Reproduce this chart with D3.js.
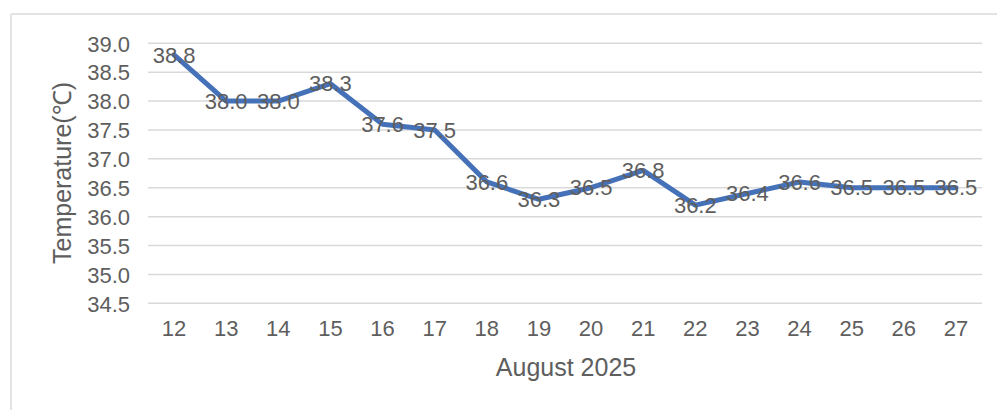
<!DOCTYPE html>
<html><head><meta charset="utf-8">
<script src="https://cdn.jsdelivr.net/npm/d3@7"></script>
<style>html,body{margin:0;padding:0;background:#fff;}svg{display:block;}</style>
</head><body>
<svg id="c" width="997" height="410"></svg>
<script>
const days = ["12","13","14","15","16","17","18","19","20","21","22","23","24","25","26","27"];
const temps = [38.8,38.0,38.0,38.3,37.6,37.5,36.6,36.3,36.5,36.8,36.2,36.4,36.6,36.5,36.5,36.5];
const yTicks = [34.5,35.0,35.5,36.0,36.5,37.0,37.5,38.0,38.5,39.0];
const xTitle = "August 2025";
const yTitle = "Temperature(℃)";

const svg = d3.select("#c");
const font = "'Liberation Sans', Arial, sans-serif";
const txt = "#5e5e5e";

// frame
svg.append("line").attr("x1",11).attr("x2",997).attr("y1",14).attr("y2",14).attr("stroke","#e3e3e3").attr("stroke-width",2);
svg.append("line").attr("x1",11).attr("x2",11).attr("y1",14).attr("y2",410).attr("stroke","#e3e3e3").attr("stroke-width",2);

const x = d3.scaleBand().domain(days).range([148, 982]);
const y = d3.scaleLinear().domain([34.5, 39]).range([303.3, 43.3]);

// gridlines
svg.append("g").selectAll("line").data(yTicks).join("line")
  .attr("x1",148).attr("x2",982)
  .attr("y1",d=>y(d)).attr("y2",d=>y(d))
  .attr("stroke","#d9d9d9").attr("stroke-width",1.5);

// y axis labels
const yAxis = d3.axisLeft(y).tickValues(yTicks).tickFormat(d3.format(".1f")).tickSize(0).tickPadding(0);
const gy = svg.append("g").attr("transform","translate(130,0)").call(yAxis);
gy.select(".domain").remove();
gy.selectAll("text").attr("font-family",font).attr("font-size",22).attr("fill",txt).attr("dy","0.35em");

// x axis labels
const xAxis = d3.axisBottom(x).tickSize(0).tickPadding(0);
const gx = svg.append("g").attr("transform","translate(0,328)").call(xAxis);
gx.select(".domain").remove();
gx.selectAll("text").attr("font-family",font).attr("font-size",22).attr("fill",txt).attr("dy","0.35em");

// line
const line = d3.line().x((d,i)=>x(days[i])+x.bandwidth()/2).y(d=>y(d));
svg.append("path").datum(temps).attr("d",line).attr("fill","none")
  .attr("stroke","#4571b8").attr("stroke-width",5).attr("stroke-linejoin","round").attr("stroke-linecap","round");

// data labels
svg.append("g").selectAll("text").data(temps).join("text")
  .attr("x",(d,i)=>x(days[i])+x.bandwidth()/2)
  .attr("y",d=>y(d)).attr("dy","0.35em")
  .attr("text-anchor","middle").attr("font-family",font).attr("font-size",22).attr("fill",txt)
  .text(d=>d.toFixed(1));

// titles
svg.append("text").attr("x",566).attr("y",367).attr("dy","0.35em").attr("text-anchor","middle")
  .attr("font-family",font).attr("font-size",25).attr("fill",txt).text(xTitle);
svg.append("text").attr("transform","translate(62,173) rotate(-90)").attr("dy","0.35em").attr("text-anchor","middle")
  .attr("font-family",font).attr("font-size",25).attr("fill",txt).text(yTitle);
</script>
</body></html>
